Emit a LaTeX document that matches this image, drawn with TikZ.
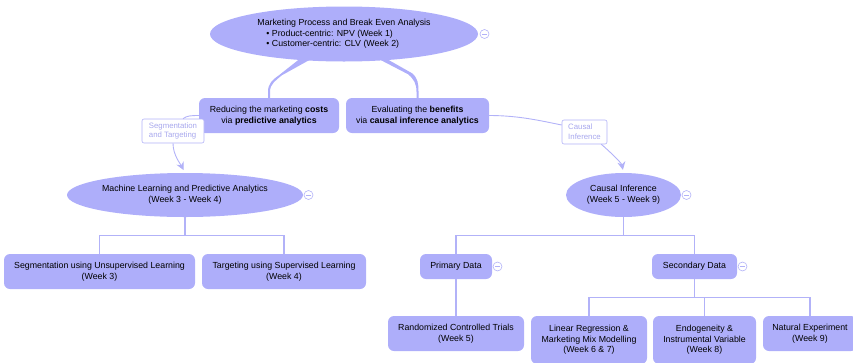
\documentclass[tikz,border=0pt]{standalone}
\usepackage{fontspec}
\setmainfont{Liberation Sans}
\usetikzlibrary{shapes,shapes.geometric,arrows.meta,calc,positioning}
\definecolor{lav}{RGB}{174,174,250}
\definecolor{lavline}{RGB}{178,178,248}
\definecolor{lavtext}{RGB}{168,168,238}

\begin{document}
\begin{tikzpicture}[%
    x=1pt, y=-1pt,
    >={Stealth[length=8pt,width=8pt]},
    font=\fontsize{8.8}{10.6}\selectfont,
    topic/.style={ellipse, fill=lav, inner sep=0pt, align=center},
    box/.style={rectangle, rounded corners=6pt, fill=lav, inner sep=0pt, align=center},
    tag/.style={rectangle, rounded corners=2pt, draw=lavline, fill=white, text=lavtext,
      line width=0.6pt, inner sep=0pt, align=left, font=\fontsize{7.8}{9.6}\selectfont},
    tree/.style={draw=lavline, line width=1.2pt},
    link/.style={draw=lavline, line width=0.9pt},
    collapse/.style={circle, draw=lavline, fill=white, line width=0.6pt, minimum size=9pt,
      inner sep=0pt, path picture={\draw[lavline, line width=0.6pt]
        ([xshift=-2.5pt]path picture bounding box.center) --
        ([xshift=2.5pt]path picture bounding box.center);}}
  ]
  \useasboundingbox (0,0) rectangle (853,362);

  \node[topic, minimum width=268pt, minimum height=55pt, align=left] (main) at (344,34)
    {Marketing Process and Break Even Analysis\\
     \hspace*{9pt}• Product-centric: NPV (Week 1)\\
     \hspace*{9pt}• Customer-centric: CLV (Week 2)};
  \node[box, minimum width=140pt, minimum height=35pt] (reduce) at (269,115.5)
    {Reducing the marketing \textbf{costs}\\via \textbf{predictive analytics}};
  \node[box, minimum width=143pt, minimum height=35pt] (evaluate) at (417.5,115.5)
    {Evaluating the \textbf{benefits}\\via \textbf{causal inference analytics}};

  \node[topic, minimum width=236pt, minimum height=44pt] (mlpa) at (185,195)
    {Machine Learning and Predictive Analytics\\(Week 3 - Week 4)};
  \node[topic, minimum width=115pt, minimum height=44pt] (causal) at (623.5,195)
    {Causal Inference\\(Week 5 - Week 9)};

  \node[box, minimum width=191pt, minimum height=35pt] (seg) at (99.5,271.5)
    {Segmentation using Unsupervised Learning\\(Week 3)};
  \node[box, minimum width=164pt, minimum height=35pt] (targ) at (284,271.5)
    {Targeting using Supervised Learning\\(Week 4)};
  \node[box, minimum width=72pt, minimum height=25pt] (primary) at (456,266.5) {Primary Data};
  \node[box, minimum width=85pt, minimum height=25pt] (secondary) at (694.5,266.5) {Secondary Data};

  \node[box, minimum width=136pt, minimum height=35pt] (rct) at (456,333.5)
    {Randomized Controlled Trials\\(Week 5)};
  \node[box, minimum width=116pt, minimum height=48pt] (linreg) at (589,340)
    {Linear Regression \&\\Marketing Mix Modelling\\(Week 6 \& 7)};
  \node[box, minimum width=103pt, minimum height=48pt] (endo) at (704.5,340)
    {Endogeneity \&\\Instrumental Variable\\(Week 8)};
  \node[box, minimum width=94pt, minimum height=35pt] (natural) at (810,333.5)
    {Natural Experiment\\(Week 9)};

  % collapse markers
  \node[collapse, right=1.5pt of main] (c-main) {};
  \node[collapse, right=0.5pt of mlpa] (c-mlpa) {};
  \node[collapse, right=0.5pt of causal] (c-causal) {};
  \node[collapse, right=0.5pt of primary] (c-primary) {};
  \node[collapse, right=0.5pt of secondary] (c-secondary) {};

  % tapered branches from the root
  \fill[lav] ($(main.south)+(-46,-1.5)$) -- ++(-19,15)
    .. controls +(-7,5) and +(0,-8) .. ($(reduce.north)+(-1,-6)$)
    -- ($(reduce.north)+(-1,0)$) -- ($(reduce.north)+(1,0)$) -- ($(reduce.north)+(1,-6)$)
    .. controls +(0,-8) and +(-6,5) .. ($(main.south)+(-62,13.5)$)
    -- ($(main.south)+(-35,-1.5)$) -- cycle;
  \fill[lav] ($(main.south)+(37,-1.5)$) -- ++(27,14)
    .. controls +(6,5) and +(0,-8) .. ($(evaluate.north)+(-1,-6)$)
    -- ($(evaluate.north)+(-1,0)$) -- ($(evaluate.north)+(1,0)$) -- ($(evaluate.north)+(1,-6)$)
    .. controls +(0,-8) and +(6,5) .. ($(main.south)+(68,11.5)$)
    -- ($(main.south)+(45,-1.5)$) -- cycle;

  % labelled links
  \node[tag, minimum width=62pt, minimum height=24pt] (seglabel) at (173,131)
    {Segmentation\\and Targeting};
  \node[tag, minimum width=45pt, minimum height=24pt] (causallabel) at (584.5,132)
    {Causal\\Inference};

  \draw[link] (reduce.west) .. controls +(-8,0) and +(4,-3) .. ($(seglabel.north)+(10,0)$);
  \draw[link,->,shorten >=3pt] (seglabel.south) .. controls +(0,12) and +(-4,-8) .. (mlpa.north);
  \draw[link] (evaluate.east) .. controls +(30,0) and +(-20,-4) .. ($(causallabel.west)+(0,-7)$);
  \draw[link,->,shorten >=3pt] ($(causallabel.south east)+(-6,0)$)
    .. controls +(6,5) and +(-2,-10) .. (causal.north);

  % tree lines
  \draw[tree] (mlpa.south) -- +(0,18) -| (seg.north);
  \draw[tree] (mlpa.south) -- +(0,18) -| (targ.north);
  \draw[tree] (causal.south) -- +(0,18) -| (primary.north);
  \draw[tree] (causal.south) -- +(0,18) -| (secondary.north);
  \draw[tree] (primary) -- (rct);
  \draw[tree] (secondary.south) -- +(0,18) -| (linreg.north);
  \draw[tree] (secondary.south) -- +(0,18) -| (endo.north);
  \draw[tree] (secondary.south) -- +(0,18) -| (natural.north);

\end{tikzpicture}
\end{document}
